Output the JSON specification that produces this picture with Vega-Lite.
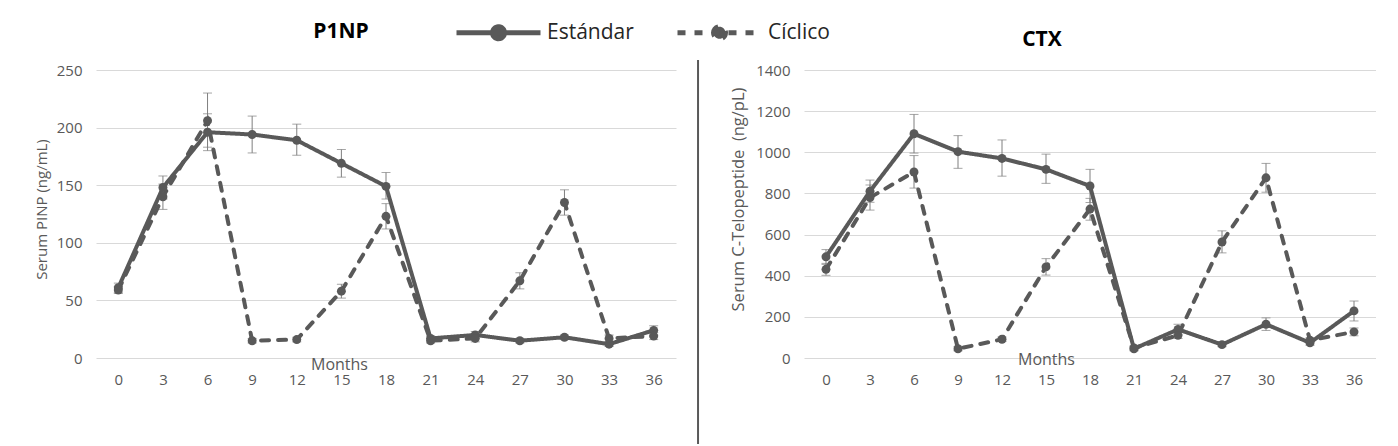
{
  "$schema": "https://vega.github.io/schema/vega-lite/v6.json",
  "background": "white",
  "padding": {"left": 34, "top": 21, "right": 0, "bottom": 0},
  "bounds": "flush",
  "spacing": 21,
  "config": {
    "font": "Open Sans",
    "view": {"stroke": null},
    "axis": {
      "labelFont": "Open Sans",
      "titleFont": "Open Sans",
      "labelColor": "#595959",
      "titleColor": "#595959",
      "titleFontWeight": "normal",
      "labelFontSize": 15,
      "ticks": false,
      "domain": false,
      "gridColor": "#d9d9d9",
      "gridWidth": 1
    },
    "title": {"font": "Open Sans", "fontSize": 21, "fontWeight": "bold", "color": "#000000"}
  },
  "resolve": {
    "scale": {"x": "independent", "y": "independent", "strokeDash": "shared"},
    "legend": {"strokeDash": "shared"}
  },
  "datasets": {
    "p1np": [
      {"month": 0, "group": "Estándar", "value": 61, "lo": 57, "hi": 65},
      {"month": 3, "group": "Estándar", "value": 148, "lo": 138, "hi": 158},
      {"month": 6, "group": "Estándar", "value": 196, "lo": 180, "hi": 212},
      {"month": 9, "group": "Estándar", "value": 194, "lo": 178, "hi": 210},
      {"month": 12, "group": "Estándar", "value": 189, "lo": 176, "hi": 203},
      {"month": 15, "group": "Estándar", "value": 169, "lo": 157, "hi": 181},
      {"month": 18, "group": "Estándar", "value": 149, "lo": 138, "hi": 161},
      {"month": 21, "group": "Estándar", "value": 17, "lo": 15, "hi": 19},
      {"month": 24, "group": "Estándar", "value": 20, "lo": 17, "hi": 23},
      {"month": 27, "group": "Estándar", "value": 15, "lo": 13, "hi": 17},
      {"month": 30, "group": "Estándar", "value": 18, "lo": 16, "hi": 20},
      {"month": 33, "group": "Estándar", "value": 12, "lo": 10, "hi": 14},
      {"month": 36, "group": "Estándar", "value": 24, "lo": 20, "hi": 28},
      {"month": 0, "group": "Cíclico", "value": 59, "lo": 56, "hi": 62},
      {"month": 3, "group": "Cíclico", "value": 140, "lo": 129, "hi": 151},
      {"month": 6, "group": "Cíclico", "value": 206, "lo": 183, "hi": 230},
      {"month": 9, "group": "Cíclico", "value": 15, "lo": 13, "hi": 17},
      {"month": 12, "group": "Cíclico", "value": 16, "lo": 14, "hi": 18},
      {"month": 15, "group": "Cíclico", "value": 58, "lo": 52, "hi": 64},
      {"month": 18, "group": "Cíclico", "value": 123, "lo": 112, "hi": 134},
      {"month": 21, "group": "Cíclico", "value": 15, "lo": 13, "hi": 17},
      {"month": 24, "group": "Cíclico", "value": 17, "lo": 14, "hi": 20},
      {"month": 27, "group": "Cíclico", "value": 67, "lo": 60, "hi": 74},
      {"month": 30, "group": "Cíclico", "value": 135, "lo": 124, "hi": 146},
      {"month": 33, "group": "Cíclico", "value": 17, "lo": 14, "hi": 20},
      {"month": 36, "group": "Cíclico", "value": 19, "lo": 16, "hi": 22}
    ],
    "ctx": [
      {"month": 0, "group": "Estándar", "value": 492, "lo": 455, "hi": 527},
      {"month": 3, "group": "Estándar", "value": 811, "lo": 757, "hi": 865},
      {"month": 6, "group": "Estándar", "value": 1090, "lo": 996, "hi": 1184},
      {"month": 9, "group": "Estándar", "value": 1003, "lo": 922, "hi": 1081},
      {"month": 12, "group": "Estándar", "value": 970, "lo": 884, "hi": 1060},
      {"month": 15, "group": "Estándar", "value": 917, "lo": 849, "hi": 991},
      {"month": 18, "group": "Estándar", "value": 836, "lo": 756, "hi": 917},
      {"month": 21, "group": "Estándar", "value": 45, "lo": 35, "hi": 55},
      {"month": 24, "group": "Estándar", "value": 139, "lo": 114, "hi": 164},
      {"month": 27, "group": "Estándar", "value": 65, "lo": 55, "hi": 75},
      {"month": 30, "group": "Estándar", "value": 164, "lo": 134, "hi": 195},
      {"month": 33, "group": "Estándar", "value": 74, "lo": 62, "hi": 86},
      {"month": 36, "group": "Estándar", "value": 229, "lo": 180, "hi": 277},
      {"month": 0, "group": "Cíclico", "value": 431, "lo": 402, "hi": 460},
      {"month": 3, "group": "Cíclico", "value": 780, "lo": 719, "hi": 841},
      {"month": 6, "group": "Cíclico", "value": 904, "lo": 826, "hi": 984},
      {"month": 9, "group": "Cíclico", "value": 45, "lo": 35, "hi": 55},
      {"month": 12, "group": "Cíclico", "value": 91, "lo": 80, "hi": 102},
      {"month": 15, "group": "Cíclico", "value": 443, "lo": 403, "hi": 483},
      {"month": 18, "group": "Cíclico", "value": 724, "lo": 670, "hi": 776},
      {"month": 21, "group": "Cíclico", "value": 49, "lo": 39, "hi": 59},
      {"month": 24, "group": "Cíclico", "value": 110, "lo": 95, "hi": 125},
      {"month": 27, "group": "Cíclico", "value": 564, "lo": 511, "hi": 618},
      {"month": 30, "group": "Cíclico", "value": 876, "lo": 806, "hi": 946},
      {"month": 33, "group": "Cíclico", "value": 86, "lo": 74, "hi": 98},
      {"month": 36, "group": "Cíclico", "value": 127, "lo": 108, "hi": 146}
    ]
  },
  "hconcat": [
    {
      "width": 580,
      "height": 288,
      "data": {"name": "p1np"},
      "title": {"text": "P1NP", "anchor": "middle", "dx": -45, "offset": 21},
      "encoding": {
        "x": {
          "field": "month", "type": "ordinal",
          "scale": {"type": "point", "padding": 0.5},
          "axis": {"title": "Months", "labelAngle": 0, "labelPadding": 14, "grid": false,
                   "titleX": 243, "titleY": 6, "titleBaseline": "middle", "titleAlign": "center", "titleFontSize": 16}
        }
      },
      "layer": [
        {
          "mark": {"type": "errorbar", "color": "#7f7f7f", "ticks": {"size": 9, "color": "#7f7f7f", "thickness": 1}, "rule": {"strokeWidth": 1, "color": "#7f7f7f"}},
          "encoding": {
            "y": {"field": "lo", "type": "quantitative", "scale": {"domain": [0, 250], "nice": false},
                  "axis": {"title": "Serum PINP (ng/mL)", "values": [0, 50, 100, 150, 200, 250], "format": "d", "grid": true, "labelPadding": 14,
                           "titleFontSize": 15, "titleX": -55, "titleY": 139, "titleAngle": -90, "titleBaseline": "middle", "titleAlign": "center"}},
            "y2": {"field": "hi"},
            "detail": {"field": "group"}
          }
        },
        {
          "mark": {"type": "line", "color": "#595959", "strokeWidth": 4, "strokeCap": "round"},
          "encoding": {
            "y": {"field": "value", "type": "quantitative"},
            "strokeDash": {
              "field": "group", "type": "nominal",
              "scale": {"domain": ["Estándar", "Cíclico"], "range": [[1, 0], [8, 9]]},
              "legend": {
                "orient": "none", "legendX": 392, "legendY": -48, "direction": "horizontal", "title": null, "padding": 0,
                "symbolType": "M-7,0L7,0M-1,0A1,1,0,1,1,1,0A1,1,0,1,1,-1,0Z",
                "symbolSize": 144, "symbolStrokeWidth": 5, "symbolStrokeColor": "#595959", "symbolFillColor": "#595959",
                "labelFont": "Open Sans", "labelFontSize": 21, "labelColor": "#262626", "labelOffset": 38, "columnPadding": 33
              }
            }
          }
        },
        {
          "mark": {"type": "point", "filled": true, "size": 80, "color": "#595959", "opacity": 1},
          "encoding": {"y": {"field": "value", "type": "quantitative"}, "detail": {"field": "group"}}
        }
      ]
    },
    {
      "width": 86,
      "height": 374,
      "data": {"values": [{}]},
      "mark": {"type": "rule", "color": "#595959", "strokeWidth": 2},
      "encoding": {
        "x": {"datum": 0.012, "type": "quantitative", "scale": {"domain": [0, 1]}, "axis": null},
        "y": {"datum": 0, "type": "quantitative", "scale": {"domain": [0, 1]}, "axis": null},
        "y2": {"datum": 1.027}
      }
    },
    {
      "width": 572,
      "height": 288,
      "data": {"name": "ctx"},
      "title": {"text": "CTX", "anchor": "middle", "dx": -48, "offset": 13},
      "encoding": {
        "x": {
          "field": "month", "type": "ordinal",
          "scale": {"type": "point", "padding": 0.5},
          "axis": {"title": "Months", "labelAngle": 0, "labelPadding": 14, "grid": false,
                   "titleX": 242, "titleY": 1, "titleBaseline": "middle", "titleAlign": "center", "titleFontSize": 16}
        }
      },
      "layer": [
        {
          "mark": {"type": "errorbar", "color": "#7f7f7f", "ticks": {"size": 9, "color": "#7f7f7f", "thickness": 1}, "rule": {"strokeWidth": 1, "color": "#7f7f7f"}},
          "encoding": {
            "y": {"field": "lo", "type": "quantitative", "scale": {"domain": [0, 1400], "nice": false},
                  "axis": {"title": "Serum C-Telopeptide\u00a0 (ng/pL)", "values": [0, 200, 400, 600, 800, 1000, 1200, 1400], "format": "d", "grid": true, "labelPadding": 14,
                           "titleFontSize": 16.5, "titleX": -66, "titleY": 129, "titleAngle": -90, "titleBaseline": "middle", "titleAlign": "center"}},
            "y2": {"field": "hi"},
            "detail": {"field": "group"}
          }
        },
        {
          "mark": {"type": "line", "color": "#595959", "strokeWidth": 4, "strokeCap": "round"},
          "encoding": {
            "y": {"field": "value", "type": "quantitative"},
            "strokeDash": {
              "field": "group", "type": "nominal",
              "scale": {"domain": ["Estándar", "Cíclico"], "range": [[1, 0], [8, 9]]},
              "legend": {
                "orient": "none", "legendX": 392, "legendY": -48, "direction": "horizontal", "title": null, "padding": 0,
                "symbolType": "M-7,0L7,0M-1,0A1,1,0,1,1,1,0A1,1,0,1,1,-1,0Z",
                "symbolSize": 144, "symbolStrokeWidth": 5, "symbolStrokeColor": "#595959", "symbolFillColor": "#595959",
                "labelFont": "Open Sans", "labelFontSize": 21, "labelColor": "#262626", "labelOffset": 38, "columnPadding": 33
              }
            }
          }
        },
        {
          "mark": {"type": "point", "filled": true, "size": 80, "color": "#595959", "opacity": 1},
          "encoding": {"y": {"field": "value", "type": "quantitative"}, "detail": {"field": "group"}}
        }
      ]
    }
  ]
}
